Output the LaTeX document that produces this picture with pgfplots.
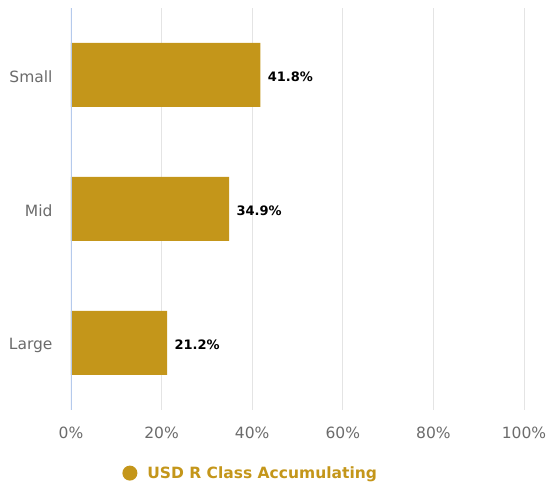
\documentclass[border=0pt]{standalone}
\usepackage{fontspec}
\setmainfont{DejaVu Sans}
\usepackage{pgfplots}
\pgfplotsset{compat=1.18}
\definecolor{gold}{HTML}{C4961A}
\definecolor{gridgray}{HTML}{E4E4E4}
\definecolor{zeroline}{HTML}{B5CAEC}
\definecolor{ticktext}{HTML}{6B6B6B}
\begin{document}
\begin{tikzpicture}
\useasboundingbox (-71bp,-77bp) rectangle (478bp,410bp);
\begin{axis}[
    at={(0,0)}, anchor=south west,
    scale only axis,
    width=453bp, height=402bp,
    xbar,
    bar width=64bp,
    xmin=0, xmax=100,
    ymin=-0.5, ymax=2.5,
    ytick={0,1,2},
    yticklabels={Large,Mid,Small},
    xtick={0,20,40,60,80,100},
    xticklabel={\pgfmathprintnumber{\tick}\%},
    /pgf/number format/assume math mode=true,
    axis line style={draw=none},
    major tick length=0pt,
    xmajorgrids,
    grid style={gridgray, line width=1pt},
    tick label style={font=\fontsize{15.5bp}{18bp}\selectfont, text=ticktext},
    xticklabel style={yshift=-13bp},
    yticklabel style={xshift=-15bp, yshift=-2bp},
    nodes near coords={\pgfmathprintnumber[fixed,precision=1,fixed zerofill]{\pgfplotspointmeta}\%},
    nodes near coords style={font=\bfseries\fontsize{13bp}{15bp}\selectfont, text=black, anchor=west, xshift=4bp, yshift=-1.5bp},
    legend style={at={(rel axis cs:0.113,-0.157)}, anchor=west, draw=none, fill=none,
        font=\bfseries\fontsize{15.5bp}{18bp}\selectfont, text=gold, inner sep=0pt},
    legend image code/.code={\fill[gold] (0,0) circle (7.5bp); \path (15.5bp,0);},
]
\addplot[fill=gold, draw=none] coordinates {(21.2,0) (34.9,1) (41.8,2)};
\addlegendentry{USD R Class Accumulating}
\draw[zeroline, line width=1.2pt] (axis cs:0,-0.5) -- (axis cs:0,2.5);
\end{axis}
\end{tikzpicture}
\end{document}
